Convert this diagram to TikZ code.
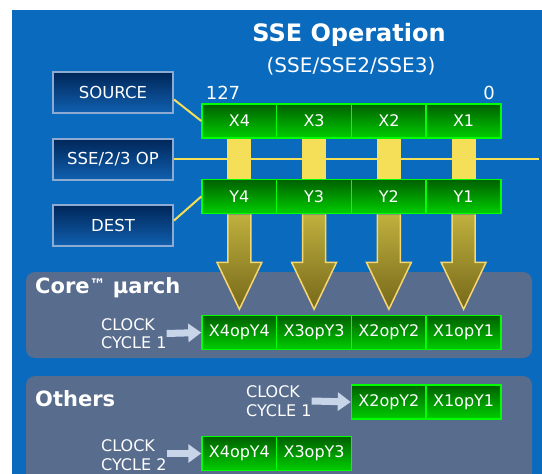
\documentclass[tikz,border=0pt]{standalone}
\usepackage{fontspec}
\setmainfont{DejaVu Sans}
\usetikzlibrary{arrows.meta}

\definecolor{bgblue}{RGB}{10,106,189}
\definecolor{panelgray}{RGB}{88,108,142}
\definecolor{boxtop}{RGB}{0,38,88}
\definecolor{boxbottom}{RGB}{16,96,176}
\definecolor{boxborder}{RGB}{140,170,210}
\definecolor{celltop}{RGB}{0,96,0}
\definecolor{cellbottom}{RGB}{0,205,0}
\definecolor{cellborder}{RGB}{0,255,0}
\definecolor{baryellow}{RGB}{245,222,88}
\definecolor{arrowtop}{RGB}{192,176,62}
\definecolor{arrowbottom}{RGB}{118,104,26}
\definecolor{arrowborder}{RGB}{246,214,110}
\definecolor{clockgray}{RGB}{200,212,232}

\tikzset{
  labelbox/.style={draw=boxborder, line width=2pt, top color=boxtop, bottom color=boxbottom,
    minimum width=120pt, minimum height=41pt, inner sep=0pt, text=white,
    font=\fontsize{16.5}{19}\selectfont},
  regcell/.style={draw=cellborder, line width=1.5pt, top color=celltop, bottom color=cellbottom,
    minimum width=74.75pt, minimum height=34pt, inner sep=0pt, text=white,
    font=\fontsize{16}{19}\selectfont},
  panel/.style={fill=panelgray, rounded corners=9pt},
  heading/.style={text=white, font=\bfseries\fontsize{21}{25}\selectfont, anchor=west, inner sep=0pt},
  clocktext/.style={text=white, align=left, anchor=west, inner sep=0pt,
    font=\fontsize{16}{18.5}\selectfont},
  clockarrow/.style={draw=clockgray, line width=7pt, -{Triangle[width=18pt,length=13pt]}},
  yellowbar/.style={fill=baryellow},
  bigarrow/.style={draw=arrowborder, line width=1.5pt, top color=arrowtop, bottom color=arrowbottom,
    line join=miter},
  opline/.style={draw=baryellow, line width=2.5pt}
}

\begin{document}
\begin{tikzpicture}[x=1pt, y=-1pt]
    \useasboundingbox (0,0) rectangle (542,474);
    \fill[bgblue] (12,10) rectangle (542,474);

    % Panels
    \fill[panel] (26,272) rectangle (532,358);
    \begin{scope}
        \clip (12,10) rectangle (542,474);
        \fill[panel] (26,376) rectangle (532,482);
    \end{scope}

    % Title
    \node[text=white, font=\bfseries\fontsize{24}{28}\selectfont] (title) at (349,35) {SSE Operation};
    \node[text=white, font=\fontsize{20}{24}\selectfont] (subtitle) at (351,66) {(SSE/SSE2/SSE3)};
    \node[text=white, font=\fontsize{18}{22}\selectfont] (msb) at (223,93) {127};
    \node[text=white, font=\fontsize{18}{22}\selectfont] (lsb) at (489,93) {0};

    % Operand boxes
    \node[labelbox] (src) at (113,92.5) {SOURCE};
    \node[labelbox] (op) at (113,159) {SSE/2/3 OP};
    \node[labelbox] (dest) at (113,225.5) {DEST};

    % Registers
    \foreach \i/\x in {4/239.4, 3/314.1, 2/388.9, 1/463.6} {
        \node[regcell] (x\i) at (\x,121) {X\i};
        \node[regcell] (y\i) at (\x,196.5) {Y\i};
    }

    % Wires to the boxes
    \coordinate (opend) at (539,159);
    \draw[opline] (op.east) -- (opend);
    \draw[opline, line width=2pt] (src.east) ++(0,7) -- (x4.west);
    \draw[opline, line width=2pt] (dest.east) ++(0,-5) -- (y4.west);

    % Bars and arrows
    \foreach \i in {1,...,4} {
        \fill[yellowbar] ([xshift=-12pt]x\i.south) rectangle ([xshift=12pt]y\i.north);
        \draw[bigarrow, shift={(y\i.south)}] (-11.5,0) -- (-11.5,48) -- (-22.5,48)
            -- (0,95) -- (22.5,48) -- (11.5,48) -- (11.5,0);
    }

    % Core
    \node[heading] (core) at (35,288) {Core\raisebox{3pt}{\fontsize{16}{16}\selectfont ™} µarch};
    \foreach \i/\x in {4/239.4, 3/314.1, 2/388.9, 1/463.6} {
        \node[regcell] (r\i) at (\x,332.5) {X\i opY\i};
    }
    \node[clocktext] (clk1) at (101,333.5) {CLOCK\\CYCLE 1};
    \draw[clockarrow] (clk1.east) -- (r4.west);

    % Others
    \node[heading] (others) at (35,399) {Others};
    \node[regcell] (o2) at (388.9,402) {X2opY2};
    \node[regcell] (o1) at (463.6,402) {X1opY1};
    \node[regcell] (p4) at (239.4,453.5) {X4opY4};
    \node[regcell] (p3) at (314.1,453.5) {X3opY3};
    \node[clocktext] (clk2) at (246,401) {CLOCK\\CYCLE 1};
    \node[clocktext] (clk3) at (101,455) {CLOCK\\CYCLE 2};
    \draw[clockarrow] (clk2.east) -- (o2.west);
    \draw[clockarrow] (clk3.east |- p4.west) -- (p4.west);
\end{tikzpicture}
\end{document}
